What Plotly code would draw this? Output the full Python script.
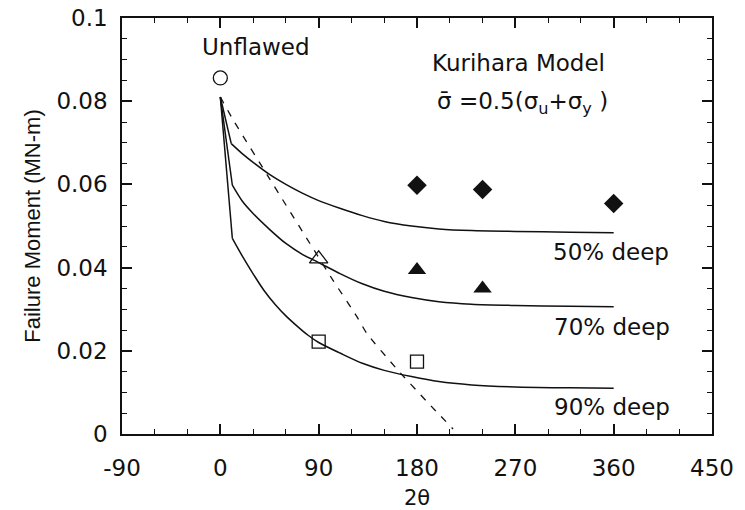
import plotly.graph_objects as go

# ---- data ----
theta_50 = [0, 10, 20, 30, 45, 60, 75, 90, 110, 130, 150, 175, 200, 230, 270, 320, 360]
moment_50 = [0.081, 0.0698, 0.0674, 0.0653, 0.0624, 0.0600, 0.0579, 0.0561, 0.0542,
             0.0525, 0.0511, 0.0500, 0.0493, 0.0489, 0.0487, 0.0485, 0.0484]

theta_70 = [0, 11, 20, 30, 45, 60, 75, 90, 110, 130, 150, 175, 200, 230, 270, 320, 360]
moment_70 = [0.081, 0.0598, 0.0560, 0.0530, 0.0492, 0.0458, 0.0432, 0.0412, 0.0385,
             0.0361, 0.0343, 0.0328, 0.0318, 0.0312, 0.0309, 0.0307, 0.0306]

theta_90 = [0, 11, 20, 30, 40, 50, 60, 70, 80, 90, 110, 130, 150, 175, 200, 230, 270, 320, 360]
moment_90 = [0.081, 0.047, 0.0428, 0.0385, 0.0345, 0.0312, 0.0284, 0.0260, 0.0238, 0.0220,
             0.0194, 0.0170, 0.0153, 0.0138, 0.0126, 0.0118, 0.0113, 0.0111, 0.0110]

theta_dash = [0, 12, 45, 82, 103, 125, 134, 161, 189, 213]
moment_dash = [0.081, 0.0754, 0.0614, 0.0458, 0.037, 0.0282, 0.0242, 0.0158, 0.0078, 0.0012]

theta_unflawed = [0]
moment_unflawed = [0.0856]

theta_diamond = [180, 240, 360]
moment_diamond = [0.0598, 0.0588, 0.0554]

theta_tri_filled = [180, 240]
moment_tri_filled = [0.0394, 0.0350]

theta_tri_open = [90]
moment_tri_open = [0.0421]

theta_square = [90, 180]
moment_square = [0.0222, 0.0174]

x_tickvals = [-90, 0, 90, 180, 270, 360, 450]
x_ticktext = ["-90", "0", "90", "180", "270", "360", "450"]
x_minorvals = [-60, -30, 30, 60, 120, 150, 210, 240, 300, 330, 390, 420]
y_tickvals = [0, 0.02, 0.04, 0.06, 0.08, 0.1]
y_ticktext = ["0", "0.02", "0.04", "0.06", "0.08", "0.1"]
y_minorvals = [0.005, 0.01, 0.015, 0.025, 0.03, 0.035, 0.045, 0.05, 0.055,
               0.065, 0.07, 0.075, 0.085, 0.09, 0.095]

FONT = "DejaVu Sans, Liberation Sans, Arial, sans-serif"
FONT_NARROW = "Liberation Sans, Arial, Helvetica, sans-serif"
BLACK = "#111111"

fig = go.Figure()

# model curves: straight initial drop, then a smooth curve
for tx, my in [(theta_50, moment_50), (theta_70, moment_70), (theta_90, moment_90)]:
    fig.add_trace(go.Scatter(x=tx[:2], y=my[:2], mode="lines",
                             line=dict(color=BLACK, width=1.5), showlegend=False))
    fig.add_trace(go.Scatter(x=tx[1:], y=my[1:], mode="lines",
                             line=dict(color=BLACK, width=1.5, shape="spline", smoothing=0.8),
                             showlegend=False))

fig.add_trace(go.Scatter(x=theta_dash, y=moment_dash, mode="lines",
                         line=dict(color=BLACK, width=1.3, dash="7px,8px",
                                   shape="spline", smoothing=0.6), showlegend=False))

fig.add_trace(go.Scatter(x=theta_unflawed, y=moment_unflawed, mode="markers",
                         marker=dict(symbol="circle-open", size=14, color=BLACK,
                                     line=dict(width=1.3)), showlegend=False))
fig.add_trace(go.Scatter(x=theta_diamond, y=moment_diamond, mode="markers",
                         marker=dict(symbol="diamond", size=15, color=BLACK), showlegend=False))
fig.add_trace(go.Scatter(x=theta_tri_filled, y=moment_tri_filled, mode="markers",
                         marker=dict(symbol="triangle-up", size=16, color=BLACK), showlegend=False))
fig.add_trace(go.Scatter(x=theta_tri_open, y=moment_tri_open, mode="markers",
                         marker=dict(symbol="triangle-up-open", size=16, color=BLACK,
                                     line=dict(width=1.3)), showlegend=False))
fig.add_trace(go.Scatter(x=theta_square, y=moment_square, mode="markers",
                         marker=dict(symbol="square-open", size=13, color=BLACK,
                                     line=dict(width=1.3)), showlegend=False))

ann_font = dict(family=FONT, size=23, color=BLACK)
annotations = [
    dict(x=33, y=0.0931, text="Unflawed", xanchor="center", yanchor="middle"),
    dict(x=191.5, y=0.0891, text="Kurihara Model", xanchor="left", yanchor="middle"),
    dict(x=196.5, y=0.0795, text="σ\u0304 =0.5(σ<sub>u</sub>+σ<sub>y</sub> )",
         xanchor="left", yanchor="middle"),
    dict(x=303, y=0.0438, text="50% deep", xanchor="left", yanchor="middle"),
    dict(x=304, y=0.0258, text="70% deep", xanchor="left", yanchor="middle"),
    dict(x=303.5, y=0.0066, text="90% deep", xanchor="left", yanchor="middle"),
]
for a in annotations:
    fig.add_annotation(xref="x", yref="y", showarrow=False, font=ann_font, **a)

axis_common = dict(
    showgrid=False, zeroline=False, showline=True, linecolor=BLACK, linewidth=1.5,
    mirror="allticks", ticks="inside", ticklen=10, tickwidth=1.5, tickcolor=BLACK,
    tickfont=dict(family=FONT, size=23, color=BLACK), automargin=False,
)

fig.update_xaxes(
    range=[-90, 450], tickmode="array", tickvals=x_tickvals, ticktext=x_ticktext,
    minor=dict(ticks="inside", ticklen=5, tickwidth=1.2, tickcolor=BLACK,
               tickmode="array", tickvals=x_minorvals, showgrid=False),
    ticklabelstandoff=13,
    title=dict(text="2θ", font=dict(family=FONT, size=21, color=BLACK), standoff=11),
    **axis_common,
)
fig.update_yaxes(
    range=[0, 0.1], tickmode="array", tickvals=y_tickvals, ticktext=y_ticktext,
    minor=dict(ticks="inside", ticklen=5, tickwidth=1.2, tickcolor=BLACK,
               tickmode="array", tickvals=y_minorvals, showgrid=False),
    ticklabelstandoff=8,
    title=dict(text="Failure Moment (MN-m)", font=dict(family=FONT_NARROW, size=22, color=BLACK),
               standoff=10),
    **axis_common,
)

fig.update_layout(
    width=745, height=510,
    margin=dict(l=122, r=33, t=18, b=76),
    paper_bgcolor="white", plot_bgcolor="white",
    font=dict(family=FONT, color=BLACK),
    showlegend=False,
)

fig.write_html("out.html")
